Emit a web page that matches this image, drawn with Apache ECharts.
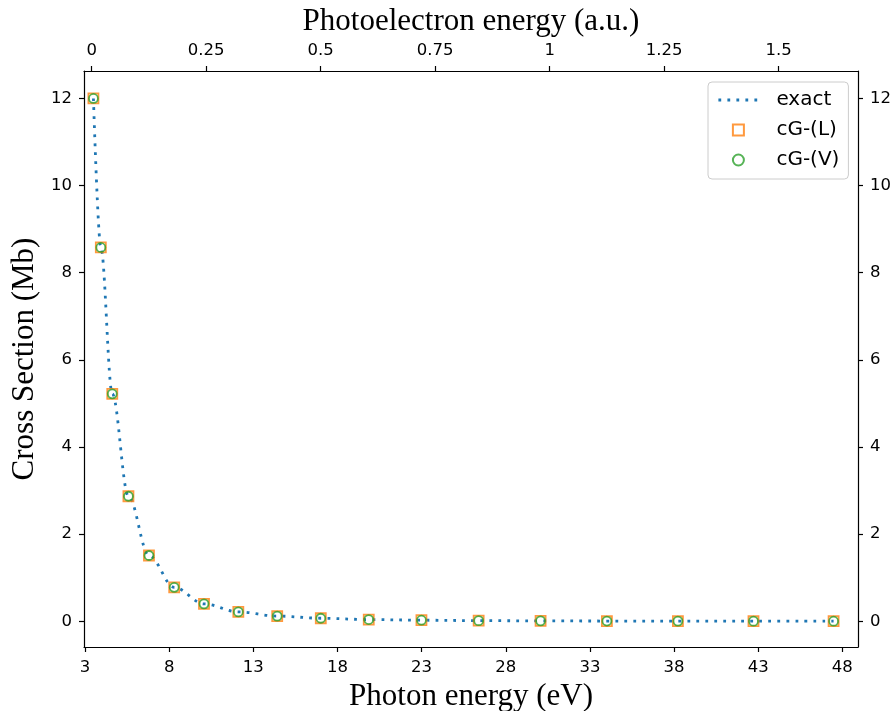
<!DOCTYPE html>
<html>
<head>
<meta charset="utf-8">
<script src="https://cdn.jsdelivr.net/npm/echarts@6/dist/echarts.min.js"></script>
<style>
  html, body { margin: 0; padding: 0; background: #ffffff; }
  #chart { width: 894px; height: 711px; }
</style>
</head>
<body>
<div id="chart"></div>
<script>
// Photon energies (eV) of the computed points
const photonEnergy = [3.50, 3.94, 4.62, 5.58, 6.80, 8.30, 10.07, 12.11, 14.42, 17.01, 19.86, 22.99, 26.39, 30.07, 34.01, 38.23, 42.72, 47.48];
// Cross sections (Mb)
const exactCS = [12.0, 8.58, 5.22, 2.87, 1.51, 0.78, 0.40, 0.215, 0.12, 0.07, 0.04, 0.025, 0.015, 0.01, 0.006, 0.004, 0.003, 0.002];
const cgLengthCS = [12.0, 8.58, 5.22, 2.87, 1.51, 0.78, 0.40, 0.215, 0.12, 0.07, 0.04, 0.025, 0.015, 0.01, 0.006, 0.004, 0.003, 0.002];
const cgVelocityCS = [12.0, 8.58, 5.22, 2.87, 1.51, 0.78, 0.40, 0.215, 0.12, 0.07, 0.04, 0.025, 0.015, 0.01, 0.006, 0.004, 0.003, 0.002];
// Tick labels
const bottomTicks = [3, 8, 13, 18, 23, 28, 33, 38, 43, 48];
const topTicks = [0, 0.25, 0.5, 0.75, 1, 1.25, 1.5];
const yTicks = [0, 2, 4, 6, 8, 10, 12];
// axis ranges
const eVMin = 2.94, eVMax = 48.93;
const ionizationEV = 3.40, hartreeEV = 27.211;
const yMin = -0.59, yMax = 12.63;

const pairs = (xs, ys) => xs.map((x, i) => [x, ys[i]]);

const blue = '#1f77b4', orange = '#ff7f0e', green = '#2ca02c';
const tickFont = { fontFamily: 'DejaVu Sans', fontSize: 16.5, color: '#000' };
const nameFont = { fontFamily: 'Liberation Serif', fontSize: 31, color: '#000' };
const axisLine = { show: true, onZero: false, lineStyle: { color: '#000', width: 1.2 } };
const axisTick = (vals) => ({ show: true, inside: false, length: 5, lineStyle: { color: '#000', width: 1.2 }, customValues: vals });
const dotted = { color: blue, width: 2.8, type: [2.8, 6.2], cap: 'butt' };

const chart = echarts.init(document.getElementById('chart'), null, { renderer: 'canvas' });
chart.setOption({
  animation: false,
  backgroundColor: '#ffffff',
  grid: { left: 84, right: 36, top: 71, bottom: 64, containLabel: false, outerBoundsMode: 'none' },
  legend: {
    orient: 'vertical',
    left: 708, top: 82,
    padding: [8, 9, 9, 9],
    itemWidth: 40, itemHeight: 11, itemGap: 10,
    backgroundColor: 'rgba(255,255,255,0.8)',
    borderColor: '#cccccc', borderWidth: 1, borderRadius: 4,
    textStyle: { fontFamily: 'DejaVu Sans', fontSize: 20, lineHeight: 20, color: '#000', padding: [0, 0, 0, 13] },
    data: [
      { name: 'exact', lineStyle: dotted, itemStyle: { color: 'rgba(0,0,0,0)', borderColor: 'rgba(0,0,0,0)', borderWidth: 0 } },
      { name: 'cG-(L)', icon: 'path://M0,0 L10,0 L10,10 L0,10 Z' },
      { name: 'cG-(V)' }
    ]
  },
  xAxis: [
    {
      type: 'value', position: 'bottom', min: eVMin, max: eVMax,
      name: 'Photon energy (eV)', nameLocation: 'middle', nameGap: 30, nameTextStyle: nameFont,
      axisLine: axisLine, axisTick: axisTick(bottomTicks),
      axisLabel: Object.assign({ margin: 12, customValues: bottomTicks }, tickFont),
      splitLine: { show: false }
    },
    {
      type: 'value', position: 'top',
      min: (eVMin - ionizationEV) / hartreeEV, max: (eVMax - ionizationEV) / hartreeEV,
      name: 'Photoelectron energy (a.u.)', nameLocation: 'middle', nameGap: 22, nameTextStyle: nameFont,
      axisLine: axisLine, axisTick: axisTick(topTicks),
      axisLabel: Object.assign({ margin: 12, customValues: topTicks }, tickFont),
      splitLine: { show: false }
    }
  ],
  yAxis: [
    {
      type: 'value', position: 'left', min: yMin, max: yMax,
      name: 'Cross Section (Mb)', nameLocation: 'middle', nameGap: 39, nameTextStyle: nameFont,
      axisLine: axisLine, axisTick: axisTick(yTicks),
      axisLabel: Object.assign({ margin: 12, customValues: yTicks }, tickFont),
      splitLine: { show: false }
    },
    {
      type: 'value', position: 'right', min: yMin, max: yMax,
      axisLine: axisLine, axisTick: axisTick(yTicks),
      axisLabel: Object.assign({ margin: 12, customValues: yTicks }, tickFont),
      splitLine: { show: false }
    }
  ],
  series: [
    {
      name: 'exact', type: 'line', xAxisIndex: 0, yAxisIndex: 0,
      data: pairs(photonEnergy, exactCS),
      smooth: 0.35, smoothMonotone: 'x',
      symbol: 'none',
      lineStyle: dotted,
      itemStyle: { color: blue },
      z: 2
    },
    {
      name: 'cG-(L)', type: 'scatter', xAxisIndex: 0, yAxisIndex: 0,
      data: pairs(photonEnergy, cgLengthCS),
      symbol: 'rect', symbolSize: 10,
      itemStyle: { color: 'rgba(0,0,0,0)', borderColor: orange, borderWidth: 1.8 },
      z: 3
    },
    {
      name: 'cG-(V)', type: 'scatter', xAxisIndex: 0, yAxisIndex: 0,
      data: pairs(photonEnergy, cgVelocityCS),
      symbol: 'circle', symbolSize: 9,
      itemStyle: { color: 'rgba(0,0,0,0)', borderColor: green, borderWidth: 1.8 },
      z: 4
    }
  ]
});
</script>
</body>
</html>
